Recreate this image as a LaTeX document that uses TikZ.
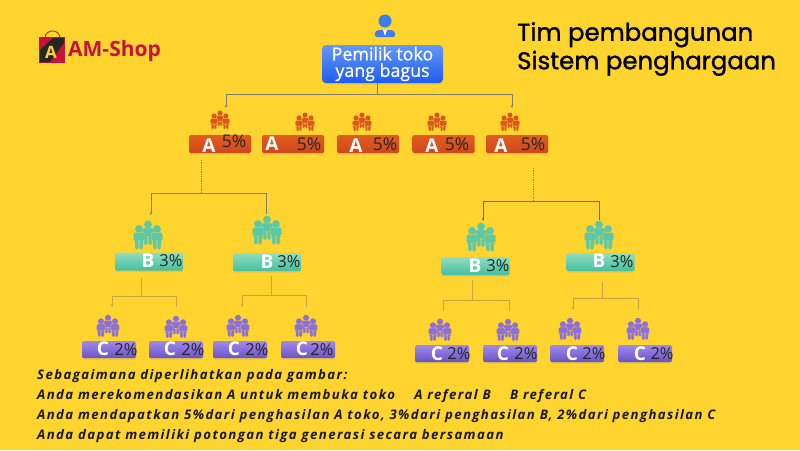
\documentclass[tikz,border=0pt]{standalone}
\usepackage{fontspec}
\setmainfont{Open Sans}
\newfontfamily\titlefont[FakeBold=1.2]{Poppins}
\newfontfamily\ownerfont[FakeBold=.6]{Open Sans}
\newfontfamily\notefont[LetterSpace=10.5]{Open Sans}
\usetikzlibrary{positioning, calc, arrows.meta, shadows}

\definecolor{bgYellow}{HTML}{FFD42F}
\definecolor{linkGrey}{HTML}{7E8068}
\definecolor{linkPale}{HTML}{C4A83E}
\definecolor{shopRed}{HTML}{C5133C}
\definecolor{ownerBlue}{HTML}{3E7CE8}
\definecolor{iconOrange}{HTML}{D9581C}
\definecolor{iconTeal}{HTML}{5CC8A8}
\definecolor{iconPurple}{HTML}{8C70D8}

% one person of a group icon
\newcommand{\personshape}[2]{
  \begin{scope}[shift={(#1,#2)}]
    \fill (0,0) circle (3.9);
    \filldraw[draw=bgYellow, line width=.2pt, rounded corners=1.5] (-5.6,3.4) -- (5.6,3.4) -- (5.6,12) -- (4,12) -- (4,20.5) -- (.2,20.5)
      -- (.2,12) -- (-.2,12) -- (-.2,20.5) -- (-4,20.5) -- (-4,12) -- (-5.6,12) -- cycle;
  \end{scope}
}

\tikzset{
  people/.pic={
    \personshape{0}{-10.5}
    \personshape{-9}{-6}
    \personshape{9}{-6}
  }
}

\begin{document}
\begin{tikzpicture}[
  x=1pt, y=-1pt,
  % Tier boxes
  tierbox/.style={rectangle, rounded corners=1.5pt, inner sep=0pt,
    drop shadow={shadow xshift=0pt, shadow yshift=-1.5pt, opacity=.16}},
  boxA/.style={tierbox, top color={rgb,255:red,226;green,92;blue,32}, bottom color={rgb,255:red,206;green,72;blue,28},
    minimum width=62pt, minimum height=18pt},
  boxB/.style={tierbox, top color={rgb,255:red,146;green,222;blue,192}, bottom color={rgb,255:red,68;green,190;blue,160},
    minimum width=68pt, minimum height=18pt},
  boxC/.style={tierbox, top color={rgb,255:red,160;green,138;blue,232}, bottom color={rgb,255:red,106;green,82;blue,198},
    minimum width=54pt, minimum height=17pt},
  % Box texts
  letter/.style={text=white, font=\bfseries\fontsize{19}{19}\selectfont, inner sep=0pt},
  pctA/.style={text=black!85, font=\fontsize{17.5}{17.5}\selectfont, inner sep=0pt},
  pctB/.style={pctA, font=\fontsize{16.5}{16.5}\selectfont},
  % Icons
  iconA/.style={color=iconOrange, scale=.66},
  iconB/.style={color=iconTeal},
  iconC/.style={color=iconPurple, scale=.78},
  % Wiring
  link/.style={draw=linkGrey, line width=.8pt},
  linkC/.style={draw=linkPale, line width=.7pt},
  tip/.style={-{Stealth[length=3pt, width=2.5pt]}}
  ]

  \fill[bgYellow] (0,0) rectangle (800,450);
  \useasboundingbox (0,0) rectangle (800,450);

  % --- Logo ---
  \fill[shopRed] (39,37) rectangle (65,63);
  \fill[black!85] (40,62) -- (40,50) -- (53,38) -- (64,38) -- (64,43) -- (50,62) -- cycle;
  \draw[shopRed, line width=.8pt] (45,37) .. controls (46,29) and (59,29) .. (60,37);
  \node[text=bgYellow, font=\bfseries\fontsize{17}{17}\selectfont, inner sep=0pt] (logoA) at (51,52) {A};
  \node[text=shopRed, font=\fontsize{21}{21}\selectfont\bfseries, anchor=west, inner sep=0pt] (shop) at (68,51) {AM-Shop};

  % --- Title ---
  \node[anchor=north west, inner sep=0pt, align=left, text=black,
    font=\titlefont\fontsize{24.4}{28.5}\selectfont] (title) at (517,22) {Tim pembangunan\\Sistem penghargaan};

  % --- Owner ---
  \fill[ownerBlue] (385,21) circle (6.5);
  \fill[ownerBlue, rounded corners=3] (374,37) -- (376,30) -- (394,30) -- (396,37) -- cycle;
  \fill[white] (383,30) -- (387,30) -- (385,36) -- cycle;
  \node[tierbox, rounded corners=4pt, top color={rgb,255:red,100;green,152;blue,245}, bottom color={rgb,255:red,30;green,92;blue,238},
    minimum width=121pt, minimum height=38pt, text=white, align=center,
    font=\ownerfont\fontsize{17.8}{16.5}\selectfont] (owner) at (382.5,64) {Pemilik toko\\yang bagus};

  % --- Tier A ---
  \node[boxA] (A1) at (220,144) {};
  \node[letter] (A1l) at (209,146) {A};
  \node[pctA] (A1p) at (234,141) {5\%};
  \pic[iconA] at (220,120) {people};

  \node[boxA] (A2) at (293,144) {};
  \node[letter] (A2l) at (272,144) {A};
  \node[pctA] (A2p) at (309,144) {5\%};
  \pic[iconA] at (305,122) {people};

  \node[boxA] (A3) at (368,144) {};
  \node[letter] (A3l) at (356,146) {A};
  \node[pctA] (A3p) at (385,144) {5\%};
  \pic[iconA] at (362,122) {people};

  \node[boxA] (A4) at (443.5,144) {};
  \node[letter] (A4l) at (432,146) {A};
  \node[pctA] (A4p) at (457,144) {5\%};
  \pic[iconA] at (437,122) {people};

  \node[boxA] (A5) at (517,144) {};
  \node[letter] (A5l) at (501,146) {A};
  \node[pctA] (A5p) at (533,144) {5\%};
  \pic[iconA] at (510,122) {people};

  % --- Tier B ---
  \node[boxB] (B1) at (149,261.5) {};
  \node[letter] (B1l) at (148,261) {B};
  \node[pctB] (B1p) at (171,261) {3\%};
  \pic[iconB] at (148,235) {people};

  \node[boxB] (B2) at (267,262) {};
  \node[letter] (B2l) at (267,262) {B};
  \node[pctB] (B2p) at (289,262) {3\%};
  \pic[iconB] at (267,230) {people};

  \node[boxB] (B3) at (475.5,266) {};
  \node[letter] (B3l) at (475,266) {B};
  \node[pctB] (B3p) at (498,266) {3\%};
  \pic[iconB] at (481,237) {people};

  \node[boxB] (B4) at (600.5,262) {};
  \node[letter] (B4l) at (599,261) {B};
  \node[pctB] (B4p) at (622,262) {3\%};
  \pic[iconB] at (599,235) {people};

  % --- Tier C ---
  \node[boxC] (C1) at (109,349.5) {};
  \node[letter] (C1l) at (103,349) {C};
  \node[pctB] (C1p) at (126,350) {2\%};
  \pic[iconC] at (108,326) {people};

  \node[boxC] (C2) at (176,349.5) {};
  \node[letter] (C2l) at (170,349) {C};
  \node[pctB] (C2p) at (193,350) {2\%};
  \pic[iconC] at (176,327) {people};

  \node[boxC] (C3) at (240,349.5) {};
  \node[letter] (C3l) at (234,349) {C};
  \node[pctB] (C3p) at (257,350) {2\%};
  \pic[iconC] at (238,326) {people};

  \node[boxC] (C4) at (308,349.5) {};
  \node[letter] (C4l) at (302,349) {C};
  \node[pctB] (C4p) at (322,350) {2\%};
  \pic[iconC] at (306,326) {people};

  \node[boxC] (C5) at (442,353.5) {};
  \node[letter] (C5l) at (437,354) {C};
  \node[pctB] (C5p) at (459,354) {2\%};
  \pic[iconC] at (440,330) {people};

  \node[boxC] (C6) at (510,353.5) {};
  \node[letter] (C6l) at (503,354) {C};
  \node[pctB] (C6p) at (526,354) {2\%};
  \pic[iconC] at (508,330) {people};

  \node[boxC] (C7) at (577,353.5) {};
  \node[letter] (C7l) at (572,354) {C};
  \node[pctB] (C7p) at (594,354) {2\%};
  \pic[iconC] at (570,329) {people};

  \node[boxC] (C8) at (645,353.5) {};
  \node[letter] (C8l) at (640,354) {C};
  \node[pctB] (C8p) at (662,354) {2\%};
  \pic[iconC] at (638,329) {people};

  % --- Wiring ---
  % Owner to A
  \coordinate (jOwner) at (377,94);
  \coordinate (dA1) at (226,108);
  \coordinate (dA5) at (512,108);
  \draw[link] (jOwner) -- (jOwner |- owner.south);
  \draw[link, tip] (jOwner) -| (dA1);
  \draw[link, tip] (jOwner) -| (dA5);

  % A1 to B
  \coordinate (jA1) at (201,193);
  \coordinate (dB1) at (151,215);
  \coordinate (dB2) at (266,214);
  \draw[link, densely dotted, shorten >=7pt] (jA1) -- (jA1 |- A1.south);
  \draw[link, tip] (jA1) -| (dB1);
  \draw[link] (jA1) -| (dB2);

  % A5 to B
  \coordinate (jA5) at (533.5,201);
  \coordinate (dB3) at (483,221);
  \coordinate (dB4) at (599,220);
  \draw[link, densely dotted, shorten >=15pt] (jA5) -- (jA5 |- A5.south);
  \draw[link, black!60, tip] (jA5) -| (dB3);
  \draw[link, black!60] (jA5) -| (dB4);

  % B to C
  \coordinate (jB1) at (141,296);
  \coordinate (dC1) at (112,307);
  \coordinate (dC2) at (176,307);
  \draw[linkC, shorten >=7pt] (jB1) -- (jB1 |- B1.south);
  \draw[linkC, tip] (jB1) -| (dC1);
  \draw[linkC] (jB1) -| (dC2);

  \coordinate (jB2) at (271,295);
  \coordinate (dC3) at (242,307);
  \coordinate (dC4) at (306,307);
  \draw[linkC, shorten >=5pt] (jB2) -- (jB2 |- B2.south);
  \draw[linkC, tip] (jB2) -| (dC3);
  \draw[linkC] (jB2) -| (dC4);

  \coordinate (jB3) at (472,300);
  \coordinate (dC5) at (443,311);
  \coordinate (dC6) at (509,311);
  \draw[linkC, shorten >=5pt] (jB3) -- (jB3 |- B3.south);
  \draw[linkC] (jB3) -| (dC5);
  \draw[linkC] (jB3) -| (dC6);

  \coordinate (jB4) at (602,298);
  \coordinate (dC7) at (573,310);
  \coordinate (dC8) at (638,310);
  \draw[linkC, shorten >=11pt] (jB4) -- (jB4 |- B4.south);
  \draw[linkC, tip] (jB4) -| (dC7);
  \draw[linkC] (jB4) -| (dC8);

  % --- Notes ---
  \node[anchor=north west, inner sep=0pt, align=left, text=black!90,
    font=\notefont\bfseries\itshape\fontsize{13.2}{20}\selectfont] (notes) at (37,369) {%
    Sebagaimana diperlihatkan pada gambar:\\
    Anda merekomendasikan A untuk membuka toko\ \ \ \ A referal B\ \ \ \ B referal C\\
    Anda mendapatkan 5\%dari penghasilan A toko, 3\%dari penghasilan B, 2\%dari penghasilan C\\
    Anda dapat memiliki potongan tiga generasi secara bersamaan};

\end{tikzpicture}
\end{document}
